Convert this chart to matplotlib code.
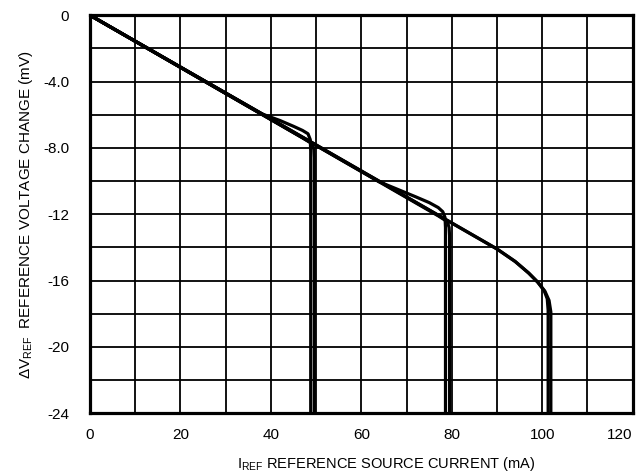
import matplotlib.pyplot as plt
import numpy as np

plt.rcParams['font.family'] = ['Liberation Sans', 'DejaVu Sans']
plt.rcParams['mathtext.fontset'] = 'custom'
plt.rcParams['mathtext.rm'] = 'Liberation Sans'
plt.rcParams['mathtext.it'] = 'Liberation Sans'

# traces (current mA, voltage change mV)
c1a_x = [0, 38, 42, 45, 47, 48.2, 48.7, 48.8, 48.8]
c1a_y = [0, -5.95, -6.35, -6.7, -6.95, -7.15, -7.5, -8.2, -24]
c1b_x = [0, 47, 49.1, 49.5, 49.6, 49.6]
c1b_y = [0, -7.4, -7.75, -8.1, -8.6, -24]

c2a_x = [0, 64, 68, 72, 75, 77, 78, 78.5, 78.6, 78.6]
c2a_y = [0, -10.05, -10.5, -10.95, -11.3, -11.6, -11.85, -12.2, -12.8, -24]
c2b_x = [0, 77, 79.0, 79.4, 79.5, 79.5]
c2b_y = [0, -12.1, -12.45, -12.8, -13.3, -24]

c3a_x = [0, 40, 90, 94, 97, 99, 100.4, 101.1, 101.3, 101.3]
c3a_y = [0, -6.25, -14.1, -14.85, -15.55, -16.1, -16.6, -17.1, -17.8, -24]
c3b_x = [0, 90, 94, 97, 99, 100.6, 101.5, 101.9, 101.9]
c3b_y = [0, -14.1, -14.85, -15.55, -16.1, -16.65, -17.2, -17.9, -24]

traces = [(c1a_x, c1a_y), (c1b_x, c1b_y), (c2a_x, c2a_y),
          (c2b_x, c2b_y), (c3a_x, c3a_y), (c3b_x, c3b_y)]

fig = plt.figure(figsize=(6.43, 4.76), dpi=100)
ax = fig.add_axes([0.14, 0.132, 0.844, 0.836])

for x, y in traces:
    ax.plot(x, y, color='black', lw=2.3, solid_joinstyle='round', zorder=3)

ax.set_xlim(0, 120)
ax.set_ylim(-24, 0)
ax.set_xticks(np.arange(0, 121, 10), minor=True)
ax.set_yticks(np.arange(-24, 1, 2), minor=True)
ax.set_xticks(np.arange(0, 121, 20))
ax.set_xticklabels(['0', '20', '40', '60', '80', '100', '120'])
ax.set_yticks([0, -4, -8, -12, -16, -20, -24])
ax.set_yticklabels(['0', '-4.0', '-8.0', '-12', '-16', '-20', '-24'])
ax.grid(True, which='both', color='black', lw=1.3)
ax.tick_params(which='both', length=0, labelsize=11)
ax.tick_params(axis='y', pad=15)
ax.tick_params(axis='x', pad=11)
ax.get_xticklabels()[-1].set_horizontalalignment('right')
for s in ax.spines.values():
    s.set_linewidth(2.3)

ax.set_xlabel(r'I$_{\mathregular{REF}}$ REFERENCE SOURCE CURRENT (mA)', fontsize=10.5)
ax.xaxis.set_label_coords(0.545, -0.105)
ax.set_ylabel(r'$\Delta$V$_{\mathregular{REF}}$  REFERENCE VOLTAGE CHANGE (mV)', fontsize=11, labelpad=6)

fig.savefig('out.png', dpi=100)
